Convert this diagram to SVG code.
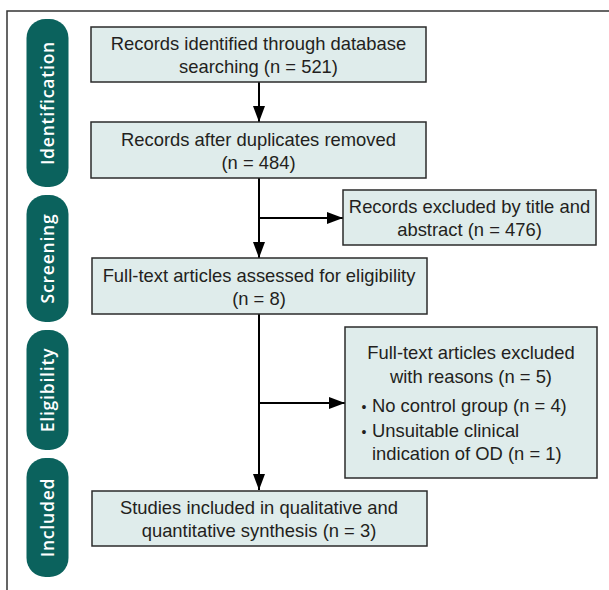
<svg xmlns="http://www.w3.org/2000/svg" width="609" height="590" viewBox="0 0 609 590">
  <defs>
    <marker id="ah" markerUnits="userSpaceOnUse" markerWidth="16" markerHeight="12" refX="16" refY="6" orient="auto">
      <path d="M0,0 L16,6 L0,12 Z" fill="#000"/>
    </marker>
    <style>
      .frame { fill: none; stroke: #333; stroke-width: 1.5; }
      .tab { fill: #0b625d; }
      .tabtxt { fill: #fff; font-family: "Open Sans", "Liberation Sans", sans-serif; font-weight: 600; font-size: 17.5px; letter-spacing: 0.8px; text-anchor: middle; }
      .box { fill: #dfeceb; stroke: #2b2b2b; stroke-width: 1.5; }
      .t { fill: #231f20; font-family: "Liberation Sans", Arial, sans-serif; font-size: 18.4px; }
      .c { text-anchor: middle; }
      .conn { fill: none; stroke: #000; stroke-width: 2; }
    </style>
  </defs>
  <rect width="609" height="590" fill="#fff"/>
  <path class="frame" d="M7 590 V11 H609"/>

  <g id="tab-identification">
    <rect class="tab" x="26.5" y="19" width="42" height="168" rx="19"/>
    <text class="tabtxt" transform="translate(54,103) rotate(-90)">Identification</text>
  </g>
  <g id="tab-screening">
    <rect class="tab" x="26.5" y="195" width="42" height="127" rx="19"/>
    <text class="tabtxt" transform="translate(54,258.5) rotate(-90)">Screening</text>
  </g>
  <g id="tab-eligibility">
    <rect class="tab" x="26.5" y="330" width="42" height="120" rx="19"/>
    <text class="tabtxt" transform="translate(54,390) rotate(-90)">Eligibility</text>
  </g>
  <g id="tab-included">
    <rect class="tab" x="26.5" y="458" width="42" height="119" rx="19"/>
    <text class="tabtxt" transform="translate(54,517.5) rotate(-90)">Included</text>
  </g>

  <g id="connectors">
    <path class="conn" d="M259 82 V122" marker-end="url(#ah)"/>
    <path class="conn" d="M259 178 V258" marker-end="url(#ah)"/>
    <path class="conn" d="M259 218 H343" marker-end="url(#ah)"/>
    <path class="conn" d="M259 314 V490" marker-end="url(#ah)"/>
    <path class="conn" d="M259 403 H345" marker-end="url(#ah)"/>
  </g>

  <g id="records-identified">
    <rect class="box" x="91" y="27" width="335" height="55"/>
    <text class="t c" x="258.5" y="50">Records identified through database</text>
    <text class="t c" x="258.5" y="73">searching (n = 521)</text>
  </g>
  <g id="records-after-duplicates">
    <rect class="box" x="91" y="122" width="335" height="56"/>
    <text class="t c" x="258.5" y="146">Records after duplicates removed</text>
    <text class="t c" x="258.5" y="169">(n = 484)</text>
  </g>
  <g id="records-excluded">
    <rect class="box" x="343" y="190" width="253" height="55"/>
    <text class="t c" x="469.5" y="213">Records excluded by title and</text>
    <text class="t c" x="469.5" y="236">abstract (n = 476)</text>
  </g>
  <g id="fulltext-assessed">
    <rect class="box" x="92" y="258" width="335" height="56"/>
    <text class="t c" x="259" y="281.5">Full-text articles assessed for eligibility</text>
    <text class="t c" x="259" y="304.5">(n = 8)</text>
  </g>
  <g id="fulltext-excluded">
    <rect class="box" x="345" y="327" width="252" height="151"/>
    <text class="t c" x="471" y="359">Full-text articles excluded</text>
    <text class="t c" x="471" y="383">with reasons (n = 5)</text>
    <text class="t" x="361.5" y="412"><tspan font-size="14">•</tspan><tspan x="372">No control group (n = 4)</tspan></text>
    <text class="t" x="361.5" y="437"><tspan font-size="14">•</tspan><tspan x="372">Unsuitable clinical</tspan></text>
    <text class="t" x="372" y="460">indication of OD (n = 1)</text>
  </g>
  <g id="studies-included">
    <rect class="box" x="92" y="491" width="335" height="55"/>
    <text class="t c" x="259" y="514">Studies included in qualitative and</text>
    <text class="t c" x="259" y="537">quantitative synthesis (n = 3)</text>
  </g>
</svg>
